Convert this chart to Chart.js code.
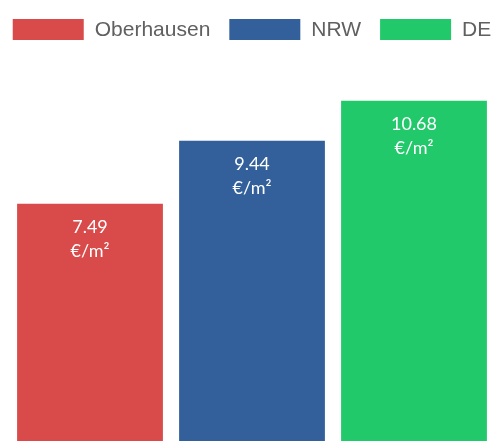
<!DOCTYPE html>
<html>
<head>
<meta charset="utf-8">
<script src="https://cdn.jsdelivr.net/npm/chart.js@4/dist/chart.umd.min.js"></script>
<style>
  html, body { margin: 0; padding: 0; background: #fff; overflow: hidden; }
  #wrap { position: relative; width: 495px; height: 446px; }
</style>
</head>
<body>
<div id="wrap"><canvas id="myChart"></canvas></div>
<script>
////////////////////////////// DATA //////////////////////////////
const categories = ["Mietpreis"];
const seriesNames = ["Oberhausen", "NRW", "DE"];
const values = [7.49, 9.44, 10.68];
const colors = ["#d94a4a", "#33609a", "#22c96a"];
const unit = "€/m²";
const yMin = 0;
const yMax = 12;

////////////////////////////// LEGEND //////////////////////////////
// drawn by hand so the three items stay on one line like the original
const topLegend = {
  id: "topLegend",
  afterDraw(chart) {
    const ctx = chart.ctx;
    const boxW = 71, boxH = 21, textGap = 11, itemGap = 19;
    ctx.save();
    ctx.font = "21px 'Liberation Sans', Arial, sans-serif";
    let total = 0;
    const widths = chart.data.datasets.map((ds) => ctx.measureText(ds.label).width);
    widths.forEach((w, i) => {
      total += boxW + textGap + w;
      if (i < widths.length - 1) total += itemGap;
    });
    const area = chart.chartArea;
    let x = (area.left + area.right) / 2 - total / 2;
    const y = 19;
    chart.data.datasets.forEach((ds, i) => {
      ctx.fillStyle = ds.backgroundColor;
      ctx.fillRect(x, y, boxW, boxH);
      x += boxW + textGap;
      ctx.fillStyle = "#606060";
      ctx.textBaseline = "middle";
      ctx.textAlign = "left";
      ctx.fillText(ds.label, x, y + boxH / 2 + 1);
      x += widths[i] + itemGap;
    });
    ctx.restore();
  },
};

////////////////////////////// BAR LABELS //////////////////////////////
const barLabels = {
  id: "barLabels",
  afterDatasetsDraw(chart) {
    const ctx = chart.ctx;
    ctx.save();
    ctx.fillStyle = "#fff";
    ctx.textAlign = "center";
    ctx.textBaseline = "alphabetic";
    ctx.font = "18px Lato, 'Open Sans', sans-serif";
    chart.data.datasets.forEach((ds, i) => {
      chart.getDatasetMeta(i).data.forEach((bar, j) => {
        ctx.fillText(ds.data[j].toFixed(2), bar.x, bar.y + 29);
        ctx.fillText(unit, bar.x, bar.y + 53);
      });
    });
    ctx.restore();
  },
};

////////////////////////////// CHART //////////////////////////////
const datasets = seriesNames.map((name, i) => ({
  label: name,
  data: [values[i]],
  backgroundColor: colors[i],
  borderWidth: 0,
  categoryPercentage: 1,
  barPercentage: 0.9,
}));

const config = {
  type: "bar",
  data: { labels: categories, datasets: datasets },
  options: {
    responsive: true,
    maintainAspectRatio: false,
    animation: false,
    layout: { padding: { top: 58, left: 9, right: 0, bottom: 0 } },
    plugins: {
      legend: { display: false },
      tooltip: { enabled: false },
    },
    scales: {
      x: { display: false },
      y: { display: false, min: yMin, max: yMax },
    },
  },
  plugins: [topLegend, barLabels],
};

const myChart = new Chart(document.getElementById("myChart"), config);
</script>
</body>
</html>
